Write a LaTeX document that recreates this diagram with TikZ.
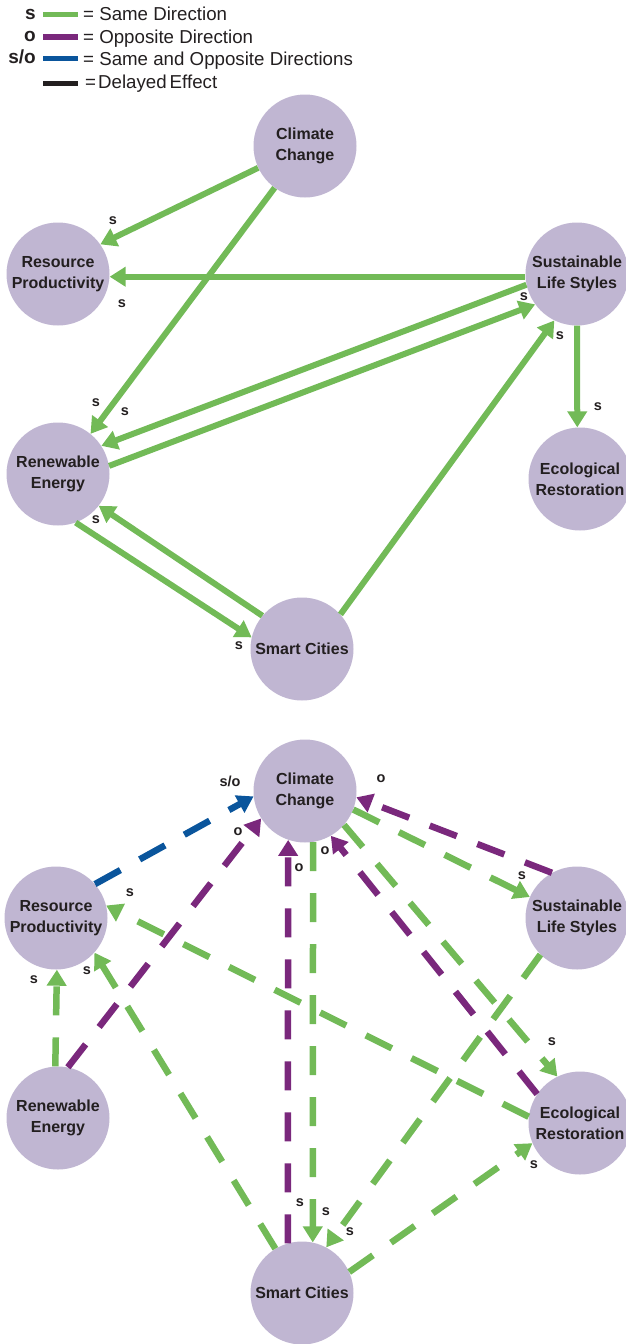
\documentclass[tikz,border=0pt]{standalone}
\usepackage{fontspec}
\setmainfont{Liberation Sans}
\usetikzlibrary{arrows.meta}
\definecolor{lav}{RGB}{192,182,210}
\definecolor{sgreen}{RGB}{114,186,87}
\definecolor{opurple}{RGB}{122,40,124}
\definecolor{soblue}{RGB}{10,85,156}
\definecolor{ink}{RGB}{35,31,32}
\tikzset{
  issue/.style={circle, fill=lav, inner sep=0pt, minimum size=103pt, align=center,
    text=ink, font=\fontsize{16}{21}\selectfont\bfseries},
  sign/.style={inner sep=0pt, text=ink, font=\fontsize{14.5}{14.5}\selectfont\bfseries},
  keytag/.style={inner sep=0pt, text=ink, font=\fontsize{19}{19}\selectfont\bfseries},
  keytext/.style={inner sep=0pt, text=ink, font=\fontsize{18.7}{18.7}\selectfont},
  keybar/.style={inner sep=0pt, minimum width=35pt, minimum height=5.5pt},
  link/.style={line width=6pt, -{Triangle[length=16pt,width=19pt]}},
  dlink/.style={line width=6.5pt, dash pattern=on 29pt off 22pt, -{Triangle[length=16pt,width=19pt]}},
  same/.style={link, draw=sgreen},
  dsame/.style={dlink, draw=sgreen},
  dopp/.style={dlink, draw=opurple},
  dboth/.style={dlink, draw=soblue}
}
\begin{document}
\begin{tikzpicture}[x=1pt, y=-1pt]
    \useasboundingbox (0,0) rectangle (626,1344);
    % Legend
    \node[keytag, anchor=base east] (ks) at (36,19) {s};
    \node[keybar, fill=sgreen] (bs) at (60.5,14.7) {};
    \node[keytext, anchor=base west] (ts) at (83,20.5) {= Same Direction};
    \node[keytag, anchor=base east] (ko) at (36,41.5) {o};
    \node[keybar, fill=opurple] (bo) at (60.5,37) {};
    \node[keytext, anchor=base west] (to) at (83,43) {= Opposite Direction};
    \node[keytag, anchor=base east] (kso) at (36,63) {s/o};
    \node[keybar, fill=soblue] (bso) at (60.5,58.5) {};
    \node[keytext, anchor=base west] (tso) at (83,65) {= Same and Opposite Directions};
    \node[keybar, fill=ink] (bd) at (60.5,83.5) {};
    \node[keytext, anchor=base west] (td) at (85,88.5) {=\kern2pt Delayed\kern3pt Effect};

    % Upper graph
    \node[issue] (cc1) at (305,146) {Climate\\Change};
    \node[issue] (rp1) at (58,274) {Resource\\Productivity};
    \node[issue] (sl1) at (577,274) {Sustainable\\Life Styles};
    \node[issue] (re1) at (58,474) {Renewable\\Energy};
    \node[issue] (er1) at (580,479) {Ecological\\Restoration};
    \node[issue] (sc1) at (302,649) {Smart Cities};
    \draw[same] (cc1.205) -- (rp1.35); \node[sign] (u1) at (113,221) {s};
    \draw[same] (cc1.234) -- (re1.51); \node[sign] (u2) at (96,403) {s};
    \draw[same] (sl1.183) -- (rp1.357); \node[sign] (u3) at (122,304) {s};
    \draw[same] (sl1.192) -- (re1.33); \node[sign] (u4) at (125,412) {s};
    \draw[same] (re1.9) -- (sl1.216); \node[sign] (u5) at (524,297) {s};
    \draw[same] (sc1.42) -- (sl1.244); \node[sign] (u6) at (560,336) {s};
    \draw[same] (sl1.270) -- (er1.93); \node[sign] (u7) at (598,407) {s};
    \draw[same] (re1.290) -- (sc1.167); \node[sign] (u8) at (239,646) {s};
    \draw[same] (sc1.140) -- (re1.322); \node[sign] (u9) at (96,520) {s};

    % Lower graph (delayed effects)
    \node[issue] (cc2) at (305,791) {Climate\\Change};
    \node[issue] (rp2) at (56,918) {Resource\\Productivity};
    \node[issue] (sl2) at (577,918) {Sustainable\\Life Styles};
    \node[issue] (re2) at (58,1118) {Renewable\\Energy};
    \node[issue] (er2) at (580,1123) {Ecological\\Restoration};
    \node[issue] (sc2) at (302,1293) {Smart Cities};
    \draw[dboth] (rp2.41) -- (cc2.186); \node[sign] (w1) at (230,781) {s/o};
    \draw[dopp] (re2.79) -- (cc2.212); \node[sign] (w2) at (238,832) {o};
    \draw[dopp] (sc2.106) -- (cc2.251); \node[sign] (w3) at (299,868) {o};
    \draw[dsame] (cc2.279) -- (sc2.78); \node[sign] (w4) at (326,1212) {s};
    \node[sign] (w5) at (300,1203) {s};
    \draw[dsame] (cc2.339) -- (sl2.156); \node[sign] (w6) at (522,876) {s};
    \draw[dopp] (sl2.119) -- (cc2.353); \node[sign] (w7) at (381,779) {o};
    \draw[dopp] (er2.146) -- (cc2.300); \node[sign] (w8) at (325,851) {o};
    \draw[dsame] (cc2.319) -- (er2.116); \node[sign] (w9) at (552,1042) {s};
    \draw[dsame] (er2.173) -- (rp2.14); \node[sign] (w10) at (130,893) {s};
    \draw[dsame] (re2.93) -- (rp2.271); \node[sign] (w11) at (34,980) {s};
    \draw[dsame] (sc2.121) -- (rp2.318); \node[sign] (w12) at (87,971) {s};
    \draw[dsame] (sl2.225) -- (sc2.62); \node[sign] (w13) at (350,1232) {s};
    \draw[dsame] (sc2.24) -- (er2.203); \node[sign] (w14) at (534,1165) {s};
\end{tikzpicture}
\end{document}
